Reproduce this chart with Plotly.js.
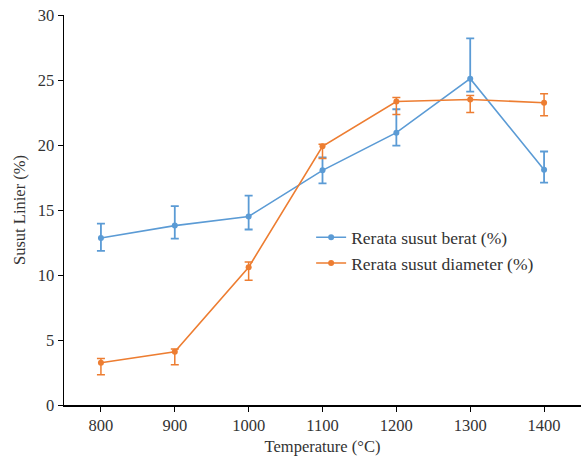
<!DOCTYPE html>
<html><head><meta charset="utf-8">
<script src="https://cdn.plot.ly/plotly-3.0.1.min.js"></script>
<style>body{margin:0;padding:0;background:#fff}#chart{width:581px;height:459px}</style>
</head><body><div id="chart"></div>
<script>
const temps = ["800","900","1000","1100","1200","1300","1400"];
const berat = [12.85, 13.8, 14.5, 18.05, 20.95, 25.1, 18.1];
const beratPlus = [1.1, 1.5, 1.6, 1.0, 1.8, 3.1, 1.4];
const beratMinus = [1.0, 1.0, 1.0, 1.0, 1.0, 1.0, 1.0];
const diameter = [3.25, 4.1, 10.6, 19.9, 23.35, 23.5, 23.25];
const diameterPlus = [0.33, 0.2, 0.4, 0.15, 0.3, 0.3, 0.7];
const diameterMinus = [0.93, 1.0, 1.0, 0.93, 1.0, 1.0, 1.0];

const fam = "Liberation Serif, Times New Roman, serif";
const txt = "#333";
const blue = "#5B9BD5", orange = "#ED7D31";

const traces = [
  {x: temps, y: berat, type: "scatter", mode: "lines+markers", name: "Rerata susut berat (%)",
   line: {color: blue, width: 1.6}, marker: {color: blue, size: 6},
   error_y: {type: "data", symmetric: false, array: beratPlus, arrayminus: beratMinus, color: blue, thickness: 1.8, width: 4}},
  {x: temps, y: diameter, type: "scatter", mode: "lines+markers", name: "Rerata susut diameter (%)",
   line: {color: orange, width: 1.6}, marker: {color: orange, size: 6},
   error_y: {type: "data", symmetric: false, array: diameterPlus, arrayminus: diameterMinus, color: orange, thickness: 1.5, width: 4}}
];

const layout = {
  width: 581, height: 459,
  margin: {l: 64, r: 0, t: 15, b: 54},
  paper_bgcolor: "#fff", plot_bgcolor: "#fff",
  font: {family: fam, color: txt, size: 16},
  showlegend: true,
  legend: {x: 0.478, y: 0.476, xanchor: "left", yanchor: "top", bgcolor: "rgba(0,0,0,0)",
           font: {family: fam, size: 17.5, color: txt}, tracegroupgap: 0, itemwidth: 30},
  xaxis: {type: "category", range: [-0.5, 6.5], showline: true, linecolor: "#000", linewidth: 1.5,
          ticks: "outside", ticklen: 5, tickcolor: "#000", showgrid: false, zeroline: false,
          tickfont: {family: fam, size: 16.5, color: txt},
          title: {text: "Temperature (°C)", font: {family: fam, size: 16.5, color: txt}, standoff: 6}},
  yaxis: {range: [0, 30], dtick: 5, showline: true, linecolor: "#000", linewidth: 1.5,
          ticks: "outside", ticklen: 5, tickcolor: "#000", showgrid: false, zeroline: false,
          tickfont: {family: fam, size: 16.5, color: txt},
          title: {text: "Susut Linier (%)", font: {family: fam, size: 16.5, color: txt}, standoff: 8}}
};
Plotly.newPlot("chart", traces, layout, {displayModeBar: false, staticPlot: true});
</script></body></html>
